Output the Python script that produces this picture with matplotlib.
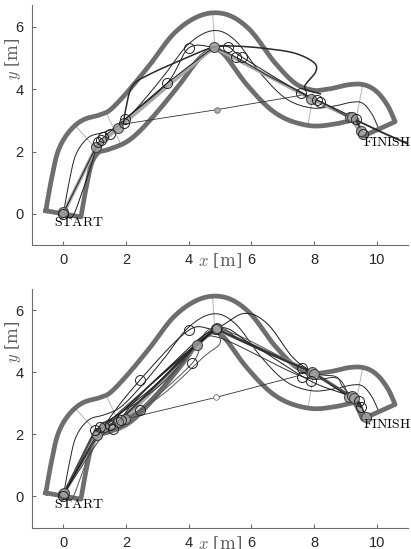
import numpy as np
import matplotlib
matplotlib.use("Agg")
import matplotlib.pyplot as plt

plt.rcParams['font.family'] = ['Liberation Sans', 'DejaVu Sans']
plt.rcParams['mathtext.fontset'] = 'cm'

# track centre line (waypoints), half width
cx = [0.0, 0.18, 0.4, 0.8, 1.3, 1.8, 2.4, 3.2, 4.0, 4.8, 5.5, 6.3, 7.1, 7.9, 8.6, 9.2, 9.55, 9.85, 10.07]
cy = [0.0, 1.0, 1.9, 2.45, 2.62, 2.85, 3.45, 4.42, 5.45, 5.88, 5.55, 4.5, 3.7, 3.4, 3.45, 3.58, 3.55, 3.2, 2.72]
half_w = 0.57
radial_x = [0.75, 1.6, 4.8, 7.9, 9.45]

# ---- top run ----
top_opt_x = [0.0, 1.05, 1.75, 4.8, 7.9, 9.15, 9.55]
top_opt_y = [0.02, 2.15, 2.75, 5.35, 3.7, 3.1, 2.55]
top_a_x = [0.0, 1.05, 1.28, 1.98, 3.32, 4.0, 4.8, 5.26, 5.7, 7.6, 8.1, 9.2, 9.5]
top_a_y = [0.02, 2.15, 2.45, 3.05, 4.2, 5.32, 5.35, 5.36, 5.03, 3.87, 3.65, 3.1, 2.7]
top_b_x = [1.92, 2.0, 2.2, 2.7, 3.8, 4.8, 5.5, 6.5, 7.4, 8.0, 8.05, 7.7, 8.2]
top_b_y = [2.9, 3.4, 4.1, 4.45, 4.95, 5.35, 5.38, 5.3, 5.15, 4.85, 4.55, 4.05, 3.85]
top_c_x = [1.98, 3.32, 4.8]
top_c_y = [3.05, 4.2, 5.35]
top_d_x = [4.8, 5.5, 6.5, 7.6, 7.9, 8.2, 9.1]
top_d_y = [5.35, 5.03, 4.45, 3.9, 3.72, 3.6, 3.1]
top_e_x = [0.0, 0.28, 0.6, 0.9, 1.05]
top_e_y = [0.02, -0.1, 0.7, 1.6, 2.15]
top_f_x = [9.15, 10.2, 11.1]
top_f_y = [3.1, 2.6, 2.2]
top_cut_x = [1.92, 4.89, 7.57]
top_cut_y = [2.88, 3.34, 3.8]
top_fill_x = [0.0, 1.05, 1.75, 4.8, 7.9, 9.15, 9.2, 9.5]
top_fill_y = [0.05, 2.15, 2.75, 5.35, 3.7, 3.1, 3.1, 2.65]
top_open_x = [0.0, 1.1, 1.2, 1.28, 1.5, 1.92, 1.98, 3.32, 4.0, 5.26, 5.5, 5.7, 7.6, 8.1, 8.2, 9.35, 9.55]
top_open_y = [0.0, 2.3, 2.38, 2.45, 2.55, 2.9, 3.05, 4.2, 5.32, 5.36, 5.03, 5.03, 3.87, 3.65, 3.6, 3.05, 2.55]

# ---- bottom run ----
bot_opt_x = [0.0, 1.08, 1.98, 4.27, 4.86, 7.95, 9.2, 9.65]
bot_opt_y = [0.05, 1.97, 2.5, 4.87, 5.4, 3.99, 3.2, 2.56]
bot_dark_x = [0.0, 1.02, 1.76, 4.27, 4.86, 7.95, 9.28, 9.49]
bot_dark_y = [0.05, 2.13, 2.4, 4.87, 5.4, 3.99, 3.15, 2.88]
bot_thin = [
    ([0.0, 1.29, 2.46, 4.0, 4.86, 5.76, 6.5, 7.3, 7.95, 9.12, 9.43, 9.65],
     [0.05, 2.24, 3.76, 5.35, 5.4, 5.89, 5.57, 4.5, 3.99, 3.2, 3.06, 2.56]),
    ([0.0, 1.16, 1.98, 2.46, 4.11, 4.86, 7.63, 9.2, 9.49],
     [0.05, 2.24, 2.5, 2.77, 4.28, 5.4, 4.12, 3.2, 2.88]),
    ([0.0, 1.5, 3.0, 4.27, 5.0, 7.63, 8.74, 9.12],
     [0.05, 2.29, 3.8, 4.87, 5.1, 3.85, 3.8, 3.2]),
    ([0.0, 1.08, 1.76, 3.2, 4.86, 6.0, 7.89, 9.28, 9.65],
     [0.05, 1.97, 2.6, 4.0, 5.4, 4.9, 3.71, 3.15, 2.56]),
    ([0.0, 0.25, 0.55, 0.9, 1.08],
     [0.05, -0.12, 0.6, 1.6, 1.97]),
    ([1.16, 3.0, 4.27, 4.86],
     [2.24, 3.5, 4.87, 5.4]),
    ([1.76, 2.5, 4.0, 4.86],
     [2.4, 3.3, 4.7, 5.4]),
    ([4.86, 5.0, 4.48, 3.2, 1.98],
     [5.4, 4.93, 4.49, 3.3, 2.5]),
    ([1.29, 2.0, 3.6, 4.86, 5.8, 7.95],
     [2.24, 2.9, 4.3, 5.4, 4.95, 3.99]),
    ([1.02, 1.9, 2.9, 3.9, 4.86],
     [2.13, 2.75, 3.55, 4.55, 5.4]),
    ([1.5, 2.2, 3.3, 4.27],
     [2.29, 2.6, 3.7, 4.87]),
    ([4.86, 6.2, 7.95, 8.7, 8.9, 9.2],
     [5.4, 4.75, 3.99, 3.85, 3.55, 3.22]),
]
bot_cut_x = [2.04, 4.86, 7.57]
bot_cut_y = [2.5, 3.18, 3.9]
bot_fill_x = [0.0, 0.02, 1.08, 1.29, 1.98, 1.76, 4.27, 4.86, 4.9, 7.95, 8.0, 9.12, 9.2, 9.28, 9.65]
bot_fill_y = [0.05, 0.1, 1.97, 2.24, 2.5, 2.4, 4.87, 5.4, 5.42, 3.99, 3.95, 3.2, 3.22, 3.15, 2.56]
bot_open_x = [0.0, 1.02, 1.16, 1.5, 1.6, 1.85, 2.46, 2.46, 4.0, 4.11, 4.86, 7.63, 7.63, 7.89, 9.43, 9.49]
bot_open_y = [0.0, 2.13, 2.24, 2.29, 2.15, 2.45, 3.76, 2.77, 5.35, 4.28, 5.38, 4.12, 3.85, 3.71, 3.06, 2.88]


def smooth(xs, ys, n=24):
    p = np.column_stack([xs, ys]).astype(float)
    p = np.vstack([2 * p[0] - p[1], p, 2 * p[-1] - p[-2]])
    out = []
    t = np.linspace(0, 1, n, endpoint=False)[:, None]
    for i in range(1, len(p) - 2):
        p0, p1, p2, p3 = p[i - 1], p[i], p[i + 1], p[i + 2]
        out.append(0.5 * (2 * p1 + (-p0 + p2) * t + (2 * p0 - 5 * p1 + 4 * p2 - p3) * t ** 2
                          + (-p0 + 3 * p1 - 3 * p2 + p3) * t ** 3))
    out.append(p[-2][None])
    return np.vstack(out)


def draw_track(ax):
    c = smooth(cx, cy, 40)
    d = np.gradient(c, axis=0)
    d /= np.linalg.norm(d, axis=1)[:, None]
    nrm = np.column_stack([-d[:, 1], d[:, 0]])
    outer = c + half_w * nrm
    inner = c - half_w * nrm
    for rx in radial_x:
        i = np.argmin(np.abs(c[:, 0] - rx))
        ax.plot([outer[i, 0], inner[i, 0]], [outer[i, 1], inner[i, 1]], color='#b4b4b4', lw=0.7, zorder=1)
    ax.plot(c[:, 0], c[:, 1], color='#222222', lw=0.7, zorder=2)
    ring = np.vstack([outer, inner[::-1], outer[:1]])
    ax.plot(ring[:, 0], ring[:, 1], color='#6e6e6e', lw=3.4, solid_joinstyle='round', zorder=3)


def path(ax, xs, ys, **kw):
    s = smooth(xs, ys)
    ax.plot(s[:, 0], s[:, 1], **kw)


def style(ax, ylim, ylab_y):
    ax.set_xlim(-1, 11)
    ax.set_ylim(*ylim)
    for s in ['top', 'right']:
        ax.spines[s].set_visible(False)
    for s in ['left', 'bottom']:
        ax.spines[s].set_color('#6e6e6e')
        ax.spines[s].set_linewidth(0.8)
    ax.set_xticks([0, 2, 4, 6, 8, 10])
    ax.set_yticks([0, 2, 4, 6])
    ax.tick_params(direction='in', length=3, color='#6e6e6e', labelsize=10.5, labelcolor='#262626', pad=6)
    ax.text(0.5, -0.066, r'$x$ [m]', transform=ax.transAxes, ha='center', va='center',
            fontsize=12, color='#606060', family=['DejaVu Serif'], math_fontfamily='cm')
    ax.text(-1.62, ylab_y, r'$y$ [m]', rotation=90, ha='center', va='center', clip_on=False,
            fontsize=12, color='#606060', family=['DejaVu Serif'], math_fontfamily='cm')
    ax.text(-0.3, -0.27, r'$\mathrm{START}$', fontsize=10, ha='left', va='center', zorder=9)
    ax.text(9.55, 2.32, r'$\mathrm{FINISH}$', fontsize=9.8, ha='left', va='center', zorder=9, clip_on=False)


fig = plt.figure(figsize=(4.11, 5.49), dpi=100)
ax1 = fig.add_axes([0.0779, 0.5537, 0.9148, 0.4372])
ax2 = fig.add_axes([0.0779, 0.0383, 0.9148, 0.4353])

mk_fill = dict(ls='none', marker='o', ms=7.2, mfc='#a0a0a0', mec='#333333', mew=0.8, alpha=0.85, zorder=7)
mk_open = dict(ls='none', marker='o', ms=7.2, mfc='none', mec='#222222', mew=0.7, zorder=7)

# top
draw_track(ax1)
ax1.plot(top_opt_x, top_opt_y, color='#a8a8a8', lw=2.6, zorder=4)
path(ax1, top_a_x, top_a_y, color='#1a1a1a', lw=0.7, zorder=5)
path(ax1, top_b_x, top_b_y, color='#2a2a2a', lw=1.1, zorder=5)
ax1.plot(top_c_x, top_c_y, color='#1a1a1a', lw=0.7, zorder=5)
path(ax1, top_d_x, top_d_y, color='#333333', lw=0.8, zorder=5)
path(ax1, top_e_x, top_e_y, color='#1a1a1a', lw=0.7, zorder=5)
ax1.plot(top_f_x, top_f_y, color='#2a2a2a', lw=1.3, zorder=5)
ax1.plot(top_cut_x, top_cut_y, color='#333333', lw=0.6, zorder=5)
ax1.plot(top_cut_x[1], top_cut_y[1], 'o', ms=4, mfc='#b0b0b0', mec='#555555', mew=0.5, zorder=6)
ax1.plot(top_fill_x, top_fill_y, **mk_fill)
ax1.plot(top_open_x, top_open_y, **mk_open)
style(ax1, (-1, 6.7), 4.97)

# bottom
draw_track(ax2)
ax2.plot(bot_opt_x, bot_opt_y, color='#a8a8a8', lw=2.6, zorder=4)
ax2.plot(bot_dark_x, bot_dark_y, color='#3a3a3a', lw=1.6, zorder=5)
for i, (xs, ys) in enumerate(bot_thin):
    path(ax2, xs, ys, color=['#1a1a1a', '#555555', '#333333'][i % 3], lw=0.7, zorder=5)
ax2.plot(bot_cut_x, bot_cut_y, color='#333333', lw=0.6, zorder=5)
ax2.plot(bot_cut_x[1], bot_cut_y[1], 'o', ms=4, mfc='white', mec='#555555', mew=0.5, zorder=6)
ax2.plot(bot_fill_x, bot_fill_y, **mk_fill)
ax2.plot(bot_open_x, bot_open_y, **mk_open)
style(ax2, (-1.03, 6.68), 4.97)

fig.savefig('out.png', dpi=100)
